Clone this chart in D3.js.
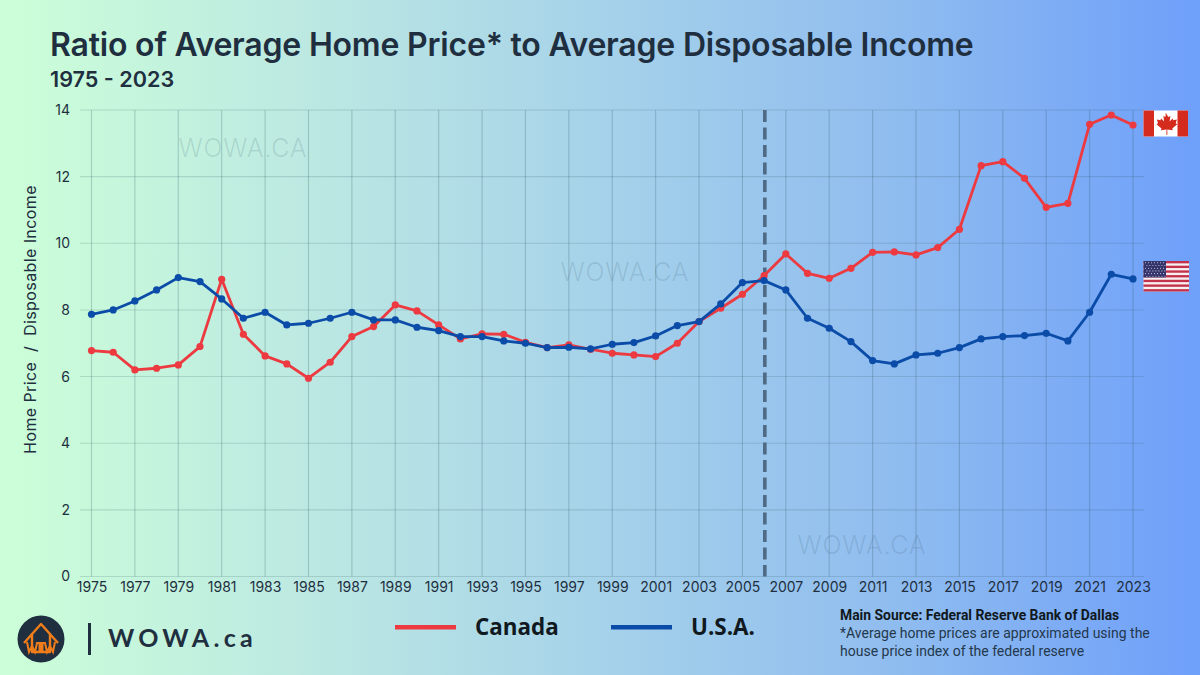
<!DOCTYPE html>
<html>
<head>
<meta charset="utf-8">
<script src="https://cdn.jsdelivr.net/npm/d3@7"></script>
<style>
  html, body { margin: 0; padding: 0; }
  svg { display: block; }
  text { font-family: Inter, "Open Sans", sans-serif; }
</style>
</head>
<body>
<svg id="chart" width="1200" height="675"></svg>
<script>
var years = d3.range(1975, 2024);
var canada = [6.78, 6.73, 6.2, 6.25, 6.35, 6.9, 8.92, 7.27, 6.62, 6.38, 5.95, 6.43, 7.2, 7.5, 8.15, 7.97, 7.55, 7.13, 7.28, 7.27, 7.03, 6.87, 6.95, 6.82, 6.7, 6.65, 6.6, 7.0, 7.65, 8.05, 8.47, 9.03, 9.68, 9.1, 8.95, 9.25, 9.73, 9.74, 9.65, 9.87, 10.42, 12.33, 12.45, 11.95, 11.08, 11.2, 13.57, 13.85, 13.55];
var usa = [7.87, 8.0, 8.27, 8.6, 8.97, 8.85, 8.33, 7.75, 7.93, 7.55, 7.6, 7.75, 7.93, 7.7, 7.7, 7.48, 7.38, 7.2, 7.2, 7.07, 7.0, 6.87, 6.88, 6.83, 6.97, 7.02, 7.22, 7.53, 7.65, 8.18, 8.82, 8.88, 8.6, 7.75, 7.45, 7.05, 6.48, 6.38, 6.65, 6.7, 6.87, 7.13, 7.2, 7.23, 7.3, 7.07, 7.93, 9.07, 8.93];
var xTicks = d3.range(1975, 2024, 2);
var yTicks = [0, 2, 4, 6, 8, 10, 12, 14];
var splitYear = 2006;

var red = "#ec3a40", blue = "#0b4ca8", ink = "#1f2f3f";

var svg = d3.select("#chart");

// background
var grad = svg.append("defs").append("linearGradient").attr("id", "bg");
[[0, "#ccffd8"], [0.25, "#bde9e2"], [0.5, "#a6d2ea"], [0.75, "#8fbcef"], [1, "#6e9ffa"]].forEach(function(s) {
  grad.append("stop").attr("offset", s[0]).attr("stop-color", s[1]);
});
svg.append("rect").attr("width", 1200).attr("height", 675).attr("fill", "url(#bg)");

var x = d3.scaleLinear().domain([1975, 2023]).range([91.5, 1133]);
var y = d3.scaleLinear().domain([0, 14]).range([576.5, 110]);

// watermarks
[[243, 156.5], [625, 280.5], [862, 553.5]].forEach(function(p) {
  svg.append("text").attr("x", p[0]).attr("y", p[1]).attr("text-anchor", "middle")
    .attr("font-size", 25).attr("font-weight", 300).attr("letter-spacing", 0.8)
    .attr("fill", "#33506a").attr("fill-opacity", 0.16).text("WOWA.CA");
});

// grid
svg.append("g").selectAll("line").data(xTicks).join("line")
  .attr("x1", x).attr("x2", x).attr("y1", y(14)).attr("y2", y(0))
  .attr("stroke", "#2c5560").attr("stroke-opacity", 0.25).attr("stroke-width", 1.1);
svg.append("g").selectAll("line").data(yTicks).join("line")
  .attr("x1", 80).attr("x2", 1144).attr("y1", y).attr("y2", y)
  .attr("stroke", "#2c5560").attr("stroke-opacity", 0.18).attr("stroke-width", 1.1);

// axes
var xAxis = svg.append("g").attr("transform", "translate(0," + y(0) + ")")
  .call(d3.axisBottom(x).tickValues(xTicks).tickFormat(d3.format("d")).tickSize(0).tickPadding(6));
var yAxis = svg.append("g").attr("transform", "translate(70,0)")
  .call(d3.axisLeft(y).tickValues(yTicks).tickSize(0).tickPadding(0));
xAxis.select(".domain").remove();
yAxis.select(".domain").remove();
xAxis.selectAll("text").attr("font-size", 14).attr("fill", ink).style("font-family", "Inter");
yAxis.selectAll("text").attr("font-size", 14).attr("fill", ink).style("font-family", "Inter");

svg.append("text").attr("transform", "translate(36,319.5) rotate(-90)").attr("text-anchor", "middle")
  .attr("font-size", 16).attr("letter-spacing", 0.4).attr("fill", ink)
  .style("white-space", "pre").text("Home Price  /  Disposable Income");

// split marker
svg.append("line").attr("x1", x(splitYear) + 0.7).attr("x2", x(splitYear) + 0.7).attr("y1", y(14)).attr("y2", y(0))
  .attr("stroke", "#4f6a85").attr("stroke-width", 3.6).attr("stroke-dasharray", "12 5.5");

// series
var line = d3.line().x(function(d) { return x(d.year); }).y(function(d) { return y(d.value); });
[[canada, red], [usa, blue]].forEach(function(s) {
  var pts = years.map(function(yr, i) { return { year: yr, value: s[0][i] }; });
  svg.append("path").datum(pts).attr("d", line).attr("fill", "none")
    .attr("stroke", s[1]).attr("stroke-width", 2.8).attr("stroke-linejoin", "round");
  svg.append("g").selectAll("circle").data(pts).join("circle")
    .attr("cx", function(d) { return x(d.year); }).attr("cy", function(d) { return y(d.value); })
    .attr("r", 3.6).attr("fill", s[1]);
});

// title
svg.append("text").attr("x", 50).attr("y", 56).attr("font-size", 32).attr("font-weight", 600)
  .attr("fill", ink).attr("letter-spacing", -0.2).text("Ratio of Average Home Price* to Average Disposable Income");
svg.append("text").attr("x", 50).attr("y", 87).attr("font-size", 21.6).attr("font-weight", 600)
  .attr("fill", ink).text("1975 - 2023");

// canadian flag
var ca = svg.append("g").attr("transform", "translate(1143.5,110.5)");
ca.append("rect").attr("width", 44.5).attr("height", 26).attr("fill", "#fff");
ca.append("rect").attr("width", 10.5).attr("height", 26).attr("fill", "#d52b1e");
ca.append("rect").attr("x", 34).attr("width", 10.5).attr("height", 26).attr("fill", "#d52b1e");
ca.append("path").attr("fill", "#d52b1e").attr("transform", "translate(-5.5,-3.5) scale(1.25)")
  .attr("d", "M22.2 4.5l2 3.4 1.7-.8-.6 4.4 2.4-2.4.6 1.4 2.8-.5-.9 3 1.2.7-4 3.4.5 1.5-4.5-.6.1 4.2h-.8l.1-4.2-4.5.6.5-1.5-4-3.4 1.2-.7-.9-3 2.8.5.6-1.4 2.4 2.4-.6-4.4 1.7.8z");

// us flag
var us = svg.append("g").attr("transform", "translate(1143.5,261)");
var stripe = 30.5 / 13;
us.append("rect").attr("width", 45.5).attr("height", 30.5).attr("fill", "#f6eef0");
d3.range(0, 13, 2).forEach(function(i) {
  us.append("rect").attr("y", i * stripe).attr("width", 45.5).attr("height", stripe).attr("fill", "#c2324a");
});
us.append("rect").attr("width", 22.5).attr("height", stripe * 7).attr("fill", "#34346a");
d3.range(0, 6).forEach(function(r) {
  d3.range(0, 7).forEach(function(c) {
    us.append("circle").attr("cx", 2 + c * 3 + (r % 2) * 1.4).attr("cy", 1.8 + r * 2.7).attr("r", 0.55).attr("fill", "#cfcfe4");
  });
});

// logo
var logo = svg.append("g").attr("transform", "translate(41,639)");
logo.append("circle").attr("r", 23.5).attr("fill", "#1f2f40");
logo.append("path").attr("fill", "none").attr("stroke", "#ef7d1a").attr("stroke-width", 2.4).attr("stroke-linejoin", "round")
  .attr("d", "M-17 4L0 -15L17 4M-9 -6V13H9V-6");
logo.append("path").attr("fill", "none").attr("stroke", "#ef7d1a").attr("stroke-width", 2)
  .attr("d", "M-14 3l2 10l3-6l3 6l2-9h8l2 9l3-6l3 6l2-10");
logo.append("rect").attr("x", -2.5).attr("y", 3).attr("width", 5).attr("height", 9).attr("fill", "#ef7d1a");

svg.append("rect").attr("x", 88).attr("y", 623).attr("width", 3).attr("height", 32).attr("fill", "#1f2f40");
svg.append("text").attr("x", 108).attr("y", 647).attr("font-size", 25).attr("font-weight", 700)
  .attr("letter-spacing", 4.3).attr("fill", "#1f2f40").style("font-family", "Lato").text("WOWA.ca");

// legend
[[395, 456, 475, "Canada", red], [611, 672, 691, "U.S.A.", blue]].forEach(function(d) {
  svg.append("rect").attr("x", d[0]).attr("y", 625).attr("width", d[1] - d[0]).attr("height", 4.5).attr("fill", d[4]);
  svg.append("text").attr("x", d[2]).attr("y", 634.5).attr("font-size", 22.4).attr("font-weight", 700)
    .attr("fill", "#101820").style("font-family", "Open Sans").text(d[3]);
});

// source note
svg.append("text").attr("x", 840).attr("y", 620).attr("font-size", 13.9).attr("font-weight", 700)
  .attr("fill", "#101820").style("font-family", "Roboto").text("Main Source: Federal Reserve Bank of Dallas");
svg.append("text").attr("x", 840).attr("y", 638).attr("font-size", 14)
  .attr("fill", "#24384c").style("font-family", "Roboto").text("*Average home prices are approximated using the");
svg.append("text").attr("x", 840).attr("y", 656).attr("font-size", 14)
  .attr("fill", "#24384c").style("font-family", "Roboto").text("house price index of the federal reserve");
</script>
</body>
</html>
